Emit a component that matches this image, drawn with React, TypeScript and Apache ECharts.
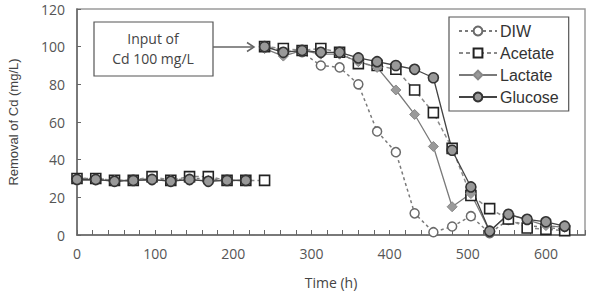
import React, { useEffect, useRef } from "react";
import * as echarts from "echarts";

const phase1Time = [0, 24, 48, 72, 96, 120, 144, 168, 192, 216, 240];
const phase2Time = [240, 264, 288, 312, 336, 360, 384, 408, 432, 456, 480, 504, 528, 552, 576, 600, 624];

const diw1 = [30, 30, 29, 29, 30, 29, 30, 30, 29, 29];
const acetate1 = [30, 30, 29, 29, 31, 29, 31, 31, 29, 29, 29];
const lactate1 = [29, 29, 29, 29, 29, 29, 29, 29, 29, 29];
const glucose1 = [29.5, 29.5, 28.5, 29, 29.5, 28.5, 29.5, 28.5, 29, 29];

const diw2 = [100, 98, 97, 90, 89, 80, 55, 44, 11.5, 1.5, 4.5, 10, 1, 8, 5, 4, 3];
const acetate2 = [100, 99, 98, 99, 97, 91, 90, 88, 77, 65, 46, 21, 14, 8.5, 3.7, 3, 2.3];
const lactate2 = [99, 95, 98, 96, 96, 92, 89, 77, 64, 47, 15, 22, 2, 11, 8, 5, 4];
const glucose2 = [100, 97, 98, 97, 97, 94, 92, 90, 88, 83.5, 45, 25.5, 2, 11, 8.3, 7, 4.7];

const xTickLabels = [0, 100, 200, 300, 400, 500, 600];

const pair = (t: number[], v: number[]) => v.map((y, i) => [t[i], y]);

const styles: Record<string, any> = {
  DIW: {
    symbol: "circle",
    symbolSize: 9,
    itemStyle: { color: "#ffffff", borderColor: "#6a6a6a", borderWidth: 1.5 },
    lineStyle: { color: "#7a7a7a", width: 1.5, type: [3, 3] },
  },
  Acetate: {
    symbol: "rect",
    symbolSize: 10,
    itemStyle: { color: "#ffffff", borderColor: "#222222", borderWidth: 1.6 },
    lineStyle: { color: "#8a8a8a", width: 1.5, type: [4, 3] },
  },
  Lactate: {
    symbol: "diamond",
    symbolSize: 10,
    itemStyle: { color: "#9a9a9a", borderColor: "#888888", borderWidth: 1 },
    lineStyle: { color: "#7a7a7a", width: 1.3, type: "solid" },
  },
  Glucose: {
    symbol: "circle",
    symbolSize: 10,
    itemStyle: { color: "#999999", borderColor: "#333333", borderWidth: 1.6 },
    lineStyle: { color: "#444444", width: 1.3, type: "solid" },
  },
};

const mk = (name: string, data: number[][]) => ({
  name,
  type: "line",
  data,
  ...styles[name],
  z: 2,
});

export default function App() {
  const ref = useRef<HTMLDivElement>(null);
  useEffect(() => {
    document.body.style.margin = "0";
    const chart = echarts.init(ref.current!, null, { renderer: "svg" });
    const labelFont = "'Open Sans', 'Noto Sans', sans-serif";
    chart.setOption({
      animation: false,
      backgroundColor: "#ffffff",
      grid: {
        left: 77,
        right: 5,
        top: 9,
        bottom: 58,
        show: true,
        borderColor: "#9a9a9a",
        borderWidth: 1.5,
        containLabel: false,
        outerBoundsMode: "none",
      },
      legend: {
        data: ["DIW", "Acetate", "Lactate", "Glucose"],
        orient: "vertical",
        left: 449,
        top: 17,
        itemWidth: 38,
        itemHeight: 11,
        itemGap: 6,
        padding: [6, 10, 6, 9],
        borderColor: "#555555",
        borderWidth: 1.2,
        backgroundColor: "#ffffff",
        textStyle: { fontFamily: "'Liberation Sans', Arial, sans-serif", fontSize: 16, color: "#333333", padding: [0, 0, 0, -2] },
      },
      xAxis: {
        type: "value",
        min: 0,
        max: 650,
        interval: 20,
        name: "Time (h)",
        nameLocation: "middle",
        nameGap: 40,
        nameTextStyle: { fontFamily: labelFont, fontSize: 14, color: "#444444" },
        axisLine: { lineStyle: { color: "#666666", width: 1.5 } },
        axisTick: { inside: true, length: 5, lineStyle: { color: "#666666" } },
        axisLabel: {
          margin: 11,
          fontFamily: labelFont,
          fontSize: 14,
          color: "#555555",
          formatter: (v: number) => (xTickLabels.includes(v) ? String(v) : ""),
        },
        splitLine: { show: false },
      },
      yAxis: {
        type: "value",
        min: 0,
        max: 120,
        interval: 20,
        name: "Removal of Cd (mg/L)",
        nameLocation: "middle",
        nameRotate: 90,
        nameGap: 57,
        nameTextStyle: { fontFamily: "'Liberation Sans', Arial, sans-serif", fontSize: 13, color: "#444444" },
        axisLine: { show: true, lineStyle: { color: "#666666", width: 1.5 } },
        axisTick: { show: true, inside: true, length: 4, lineStyle: { color: "#666666" } },
        axisLabel: { margin: 12, fontFamily: labelFont, fontSize: 14, color: "#555555" },
        splitLine: { show: false },
      },
      series: [
        mk("DIW", pair(phase1Time, diw1)),
        mk("Acetate", pair(phase1Time, acetate1)),
        mk("Lactate", pair(phase1Time, lactate1)),
        mk("Glucose", pair(phase1Time, glucose1)),
        mk("DIW", pair(phase2Time, diw2)),
        mk("Acetate", pair(phase2Time, acetate2)),
        mk("Lactate", pair(phase2Time, lactate2)),
        mk("Glucose", pair(phase2Time, glucose2)),
      ],
      graphic: [
        {
          type: "rect",
          shape: { x: 94, y: 22, width: 119, height: 54 },
          style: { fill: "#ffffff", stroke: "#555555", lineWidth: 1.2 },
          z: 10,
        },
        {
          type: "text",
          x: 153,
          y: 48,
          style: {
            text: "Input of\nCd 100 mg/L",
            fontFamily: labelFont,
            fontSize: 14,
            lineHeight: 20,
            fill: "#444444",
            align: "center",
            verticalAlign: "middle",
          },
          z: 11,
        },
        {
          type: "line",
          shape: { x1: 213, y1: 47, x2: 254, y2: 47 },
          style: { stroke: "#666666", lineWidth: 1.5 },
          z: 10,
        },
        {
          type: "polyline",
          shape: { points: [[247, 42.5], [254, 47], [247, 51.5]] },
          style: { stroke: "#666666", lineWidth: 1.5, fill: "none" },
          z: 10,
        },
      ],
    });
    return () => chart.dispose();
  }, []);
  return <div ref={ref} style={{ position: "fixed", left: 0, top: 0, width: 590, height: 293 }} />;
}
